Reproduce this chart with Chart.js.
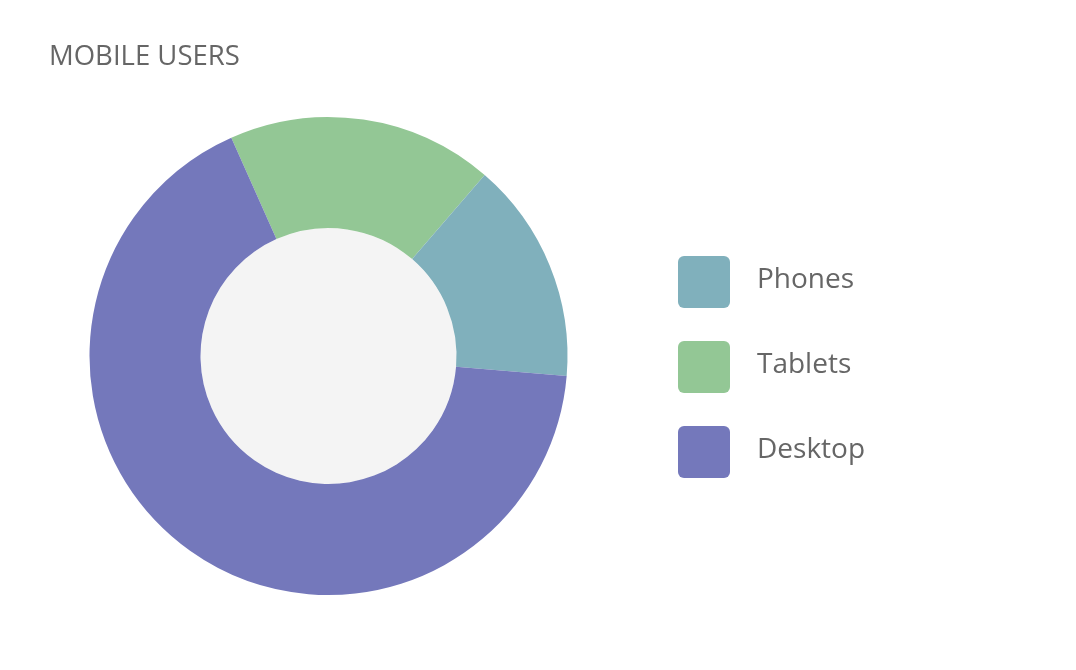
<!DOCTYPE html>
<html>
<head>
<meta charset="utf-8">
<script src="https://cdn.jsdelivr.net/npm/chart.js@4"></script>
<style>
    html, body { margin: 0; padding: 0; background: #fff; }
</style>
</head>
<body>
<canvas id="users-chart" width="1076" height="670"></canvas>
<script>
const chartTitle = 'MOBILE USERS';
// slices in drawing order, clockwise from just left of 12 o'clock
const labels = ['Tablets', 'Phones', 'Desktop'];
const values = [18, 15, 67];
const colors = ['#93c795', '#80b0bc', '#7478bb'];
// order shown in the legend
const legendOrder = ['Phones', 'Tablets', 'Desktop'];
const holeValue = [1];
const holeColor = '#f4f4f4';

const textColor = '#666666';
const fontFamily = "'Open Sans', sans-serif";

// rounded legend square, nudged down a little so it lines up with the text
function swatch(color) {
    const c = document.createElement('canvas');
    c.width = 52;
    c.height = 56;
    const g = c.getContext('2d');
    g.fillStyle = color;
    g.beginPath();
    g.roundRect(0, 4, 52, 52, 6);
    g.fill();
    return c;
}

const ctx = document.getElementById('users-chart').getContext('2d');

const chart = new Chart(ctx, {
    type: 'doughnut',
    data: {
        labels,
        datasets: [
            {
                data: values,
                backgroundColor: colors,
                borderWidth: 0,
                weight: 1
            },
            {
                // grey disc filling the hole
                data: holeValue,
                backgroundColor: holeColor,
                borderWidth: 0,
                weight: 1.153
            }
        ]
    },
    options: {
        responsive: false,
        animation: false,
        events: [],
        cutout: 0,
        rotation: -24,
        layout: { padding: { left: 49, top: 0, right: 0, bottom: 75 } },
        plugins: {
            title: {
                display: true,
                text: chartTitle,
                align: 'start',
                color: textColor,
                font: { family: fontFamily, size: 27.5, weight: 'normal', lineHeight: 1.2 },
                padding: { top: 40.5, bottom: 43.5 }
            },
            legend: {
                display: true,
                position: 'right',
                align: 'center',
                fullSize: false,
                // empty title only used as a spacer above the items
                title: { display: true, text: '', padding: 0, font: { size: 18, lineHeight: 1 } },
                labels: {
                    usePointStyle: true,
                    pointStyleWidth: 78,
                    padding: 57,
                    color: textColor,
                    font: { family: fontFamily, size: 28 },
                    sort: (a, b) => legendOrder.indexOf(a.text) - legendOrder.indexOf(b.text),
                    generateLabels: (c) => {
                        const base = Chart.overrides.doughnut.plugins.legend.labels.generateLabels(c);
                        return base.map(item => ({ ...item, pointStyle: swatch(item.fillStyle) }));
                    }
                }
            },
            tooltip: { enabled: false }
        }
    }
});

// legend should start at x=608 so the ring is centred where it is in the original
chart.options.layout.padding = { left: 49, top: 0, right: 1076 - 608 - chart.legend.width, bottom: 75 };
chart.update();
</script>
</body>
</html>
